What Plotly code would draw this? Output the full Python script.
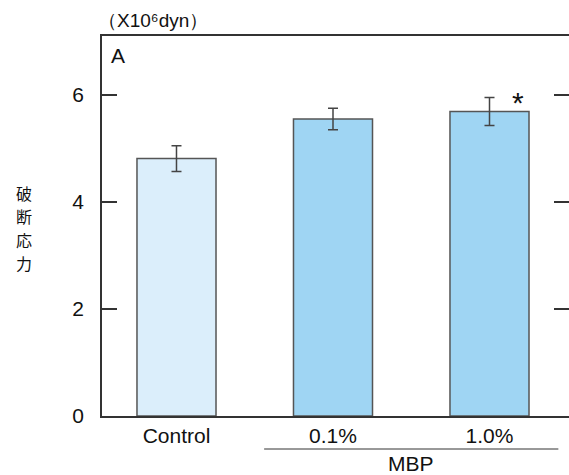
import plotly.graph_objects as go

categories = ["Control", "0.1%", "1.0%"]
values = [4.81, 5.55, 5.69]
errors = [0.24, 0.20, 0.26]
colors = ["#dbeefb", "#9fd5f3", "#9fd5f3"]
y_ticks = [0, 2, 4, 6]
y_title_chars = ["破", "断", "応", "力"]

FONT = "Liberation Sans, Arial, sans-serif"
CJK = "Noto Sans CJK JP, sans-serif"
LINE = "#333333"

x_pos = list(range(len(categories)))

fig = go.Figure()
fig.add_trace(go.Bar(
    x=x_pos, y=values, width=0.505,
    marker=dict(color=colors, line=dict(color="#555555", width=1.5)),
    error_y=dict(type="data", array=errors, visible=True, color="#444444",
                 thickness=1.5, width=5),
    showlegend=False,
))
# invisible trace for right-side ticks
fig.add_trace(go.Scatter(x=[0], y=[0], yaxis="y2", mode="markers",
                         marker=dict(opacity=0), showlegend=False, hoverinfo="skip"))

fig.update_layout(
    width=569, height=475,
    margin=dict(l=102, r=0, t=36, b=59),
    paper_bgcolor="white", plot_bgcolor="white",
    font=dict(family=FONT, size=21, color="#111111"),
    xaxis=dict(range=[-0.476, 2.508], tickvals=x_pos, ticktext=categories,
               showline=True, linecolor=LINE, linewidth=1.5, mirror=True,
               ticks="", showgrid=False, zeroline=False, ticklabelstandoff=0,
               tickfont=dict(size=21, family=FONT)),
    yaxis=dict(range=[0, 7.1], tickvals=y_ticks, showline=True, linecolor=LINE,
               linewidth=1.5, ticks="inside", ticklen=15, tickcolor=LINE, tickwidth=1.5,
               showgrid=False, zeroline=False, ticklabelstandoff=12,
               tickfont=dict(size=21, family=FONT)),
    yaxis2=dict(range=[0, 7.1], tickvals=y_ticks, overlaying="y", side="right",
                anchor="free", position=1, showline=False, ticks="inside", ticklen=15,
                tickcolor=LINE, tickwidth=1.5, showticklabels=False,
                showgrid=False, zeroline=False),
)

fig.add_annotation(x=0, y=1, xref="paper", yref="paper", xanchor="left", yanchor="bottom",
                   xshift=-6, yshift=3, text="（X10⁶dyn）", showarrow=False,
                   font=dict(size=19, family=FONT))
fig.add_annotation(x=0, y=1, xref="paper", yref="paper", xanchor="left", yanchor="top",
                   xshift=7, yshift=-6, text="A", showarrow=False,
                   font=dict(size=21, family=FONT))
# vertical Japanese y-axis title, one character per annotation
for i, ch in enumerate(y_title_chars):
    py = 193 + 23.4 * i
    fig.add_annotation(x=0, y=(416 - py) / 380, xref="paper", yref="paper",
                       xanchor="center", yanchor="middle", xshift=-78,
                       text=ch, showarrow=False, borderpad=0,
                       font=dict(size=16, family=CJK))
fig.add_annotation(x=2.18, y=5.85, xref="x", yref="y", text="*", showarrow=False,
                   font=dict(size=30, family=FONT))
# MBP bracket line and label
fig.add_shape(type="line", xref="x", yref="paper", x0=0.56, x1=2.44,
              y0=-33/380, y1=-33/380, line=dict(color=LINE, width=1))
fig.add_annotation(x=1.5, y=-33/380, xref="x", yref="paper", yanchor="top", yshift=-1,
                   text="MBP", showarrow=False, font=dict(size=21, family=FONT))

fig.write_html("out.html")
